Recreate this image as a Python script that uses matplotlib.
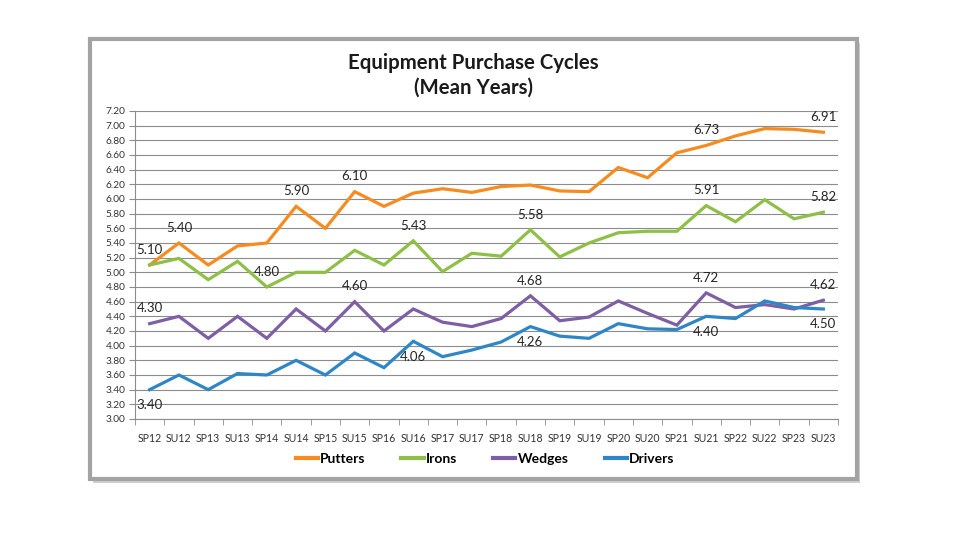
import matplotlib.pyplot as plt
from matplotlib.patches import Rectangle
import numpy as np

plt.rcParams['font.family'] = ['Lato', 'DejaVu Sans']

# seasons on the x axis
seasons = ["SP12", "SU12", "SP13", "SU13", "SP14", "SU14", "SP15", "SU15",
           "SP16", "SU16", "SP17", "SU17", "SP18", "SU18", "SP19", "SU19",
           "SP20", "SU20", "SP21", "SU21", "SP22", "SU22", "SP23", "SU23"]

putters = [5.10, 5.40, 5.10, 5.36, 5.40, 5.90, 5.60, 6.10, 5.90, 6.08, 6.14, 6.09,
           6.17, 6.19, 6.11, 6.10, 6.43, 6.29, 6.63, 6.73, 6.86, 6.96, 6.95, 6.91]
irons = [5.10, 5.19, 4.90, 5.15, 4.80, 5.00, 5.00, 5.30, 5.10, 5.43, 5.01, 5.26,
         5.22, 5.58, 5.21, 5.40, 5.54, 5.56, 5.56, 5.91, 5.69, 5.99, 5.73, 5.82]
wedges = [4.30, 4.40, 4.10, 4.40, 4.10, 4.50, 4.20, 4.60, 4.20, 4.50, 4.32, 4.26,
          4.37, 4.68, 4.34, 4.39, 4.61, 4.44, 4.28, 4.72, 4.52, 4.56, 4.50, 4.62]
drivers = [3.40, 3.60, 3.40, 3.62, 3.60, 3.80, 3.60, 3.90, 3.70, 4.06, 3.85, 3.94,
           4.05, 4.26, 4.13, 4.10, 4.30, 4.23, 4.22, 4.40, 4.37, 4.61, 4.52, 4.50]

# which points carry a value label (index into seasons)
putters_labels = [0, 1, 5, 7, 19, 23]
irons_labels = [4, 9, 13, 19, 23]
wedges_labels = [0, 7, 13, 19, 23]
drivers_labels = [0, 9, 13, 19, 23]

series = [
    ("Putters", putters, "#F68B1F", putters_labels, 11),
    ("Irons", irons, "#8EBF47", irons_labels, 11),
    ("Wedges", wedges, "#7E5EA4", wedges_labels, 11),
    ("Drivers", drivers, "#2F86C6", drivers_labels, -11),
]

fig = plt.figure(figsize=(9.66, 5.44), dpi=100)
W, H = 966, 544

# framed chart area with a drop shadow
shadow = Rectangle((93 / W, 1 - 483 / H), (857 - 90) / W, (479 - 39) / H,
                   transform=fig.transFigure, facecolor="#cfcfcf", edgecolor="none", zorder=-3)
frame = Rectangle((90 / W, 1 - 479 / H), (857 - 90) / W, (479 - 39) / H,
                  transform=fig.transFigure, facecolor="white", edgecolor="#a3a3a3",
                  lw=3, zorder=-2)
fig.patches.extend([shadow, frame])

ax = fig.add_axes([135 / W, 1 - 419 / H, (838 - 135) / W, (419 - 111) / H])
ax.set_facecolor("none")

x = np.arange(len(seasons))
for name, vals, col, lab_idx, off in series:
    ax.plot(x, vals, color=col, lw=2.3, label=name, solid_joinstyle="miter")
    for i in lab_idx:
        ax.annotate(f"{vals[i]:.2f}", (x[i], vals[i]), xytext=(0, off),
                    textcoords="offset points", ha="center", va="center",
                    fontsize=9.5, color="#262626")

ax.set_xlim(-0.5, len(seasons) - 0.5)
ax.set_ylim(3.0, 7.2)
ax.set_yticks(np.arange(3.0, 7.21, 0.2))
ax.set_yticklabels([f"{v:.2f}" for v in np.arange(3.0, 7.21, 0.2)])
ax.set_xticks(x)
ax.set_xticklabels(seasons)
ax.set_xticks(np.arange(-0.5, len(seasons), 1.0), minor=True)
ax.tick_params(axis="x", which="major", length=0, pad=10, labelsize=7.6, labelcolor="#333333")
ax.tick_params(axis="x", which="minor", length=4, color="#8c8c8c", direction="out")
ax.tick_params(axis="y", length=4, color="#8c8c8c", pad=3, labelsize=7.3, labelcolor="#333333")

ax.grid(axis="y", color="#8c8c8c", lw=0.8)
ax.set_axisbelow(True)
for s in ["top", "right"]:
    ax.spines[s].set_visible(False)
for s in ["left", "bottom"]:
    ax.spines[s].set_color("#8c8c8c")
    ax.spines[s].set_linewidth(0.8)

fig.text(473 / W, 1 - 75 / H, "Equipment Purchase Cycles\n(Mean Years)", ha="center",
         va="center", fontsize=14.7, fontweight="bold", linespacing=1.3, color="#1a1a1a")

leg = fig.legend(loc="center", bbox_to_anchor=(485 / W, 1 - 459 / H), ncol=4, frameon=False,
                 handlelength=1.6, handletextpad=0.15, columnspacing=2.6,
                 prop={"size": 10, "weight": "bold"})
for line in leg.get_lines():
    line.set_linewidth(3)

plt.savefig("out.png", dpi=100)
